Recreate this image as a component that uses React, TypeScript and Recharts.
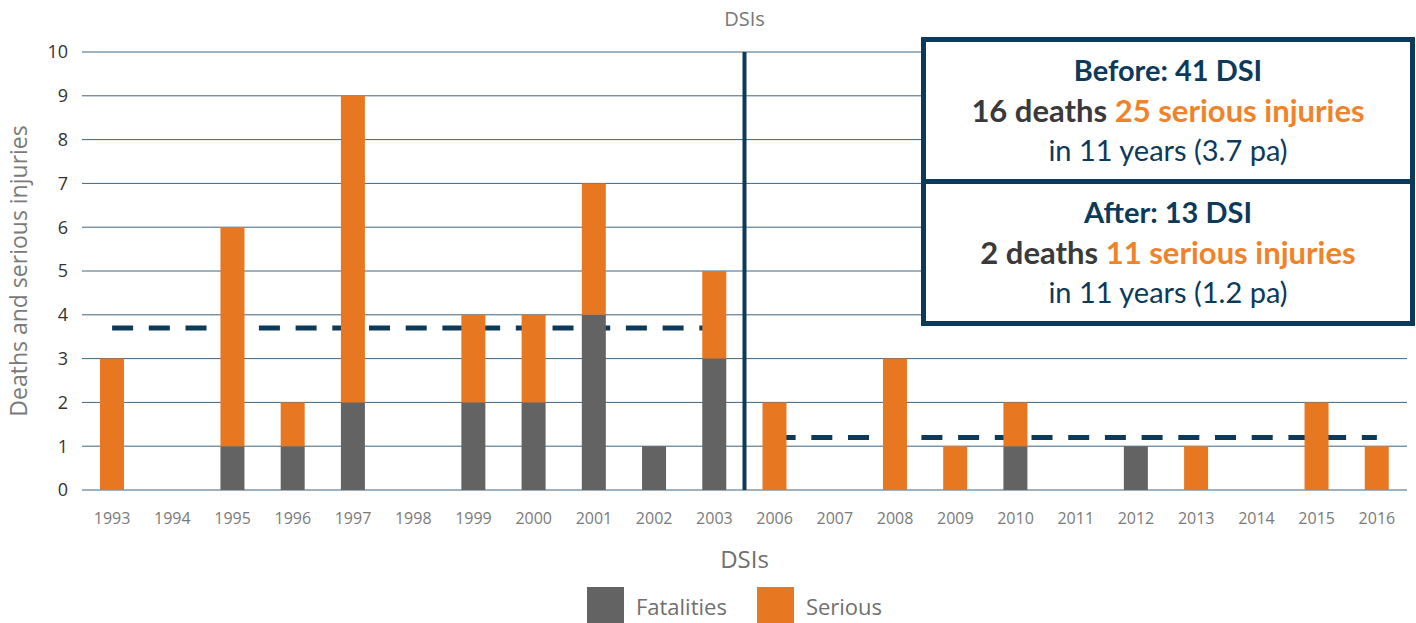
import React from "react";
import {
  Bar,
  BarChart,
  CartesianGrid,
  Legend,
  ReferenceLine,
  XAxis,
  YAxis,
} from "recharts";

if (typeof document !== "undefined") document.body.style.margin = "0";

// data
const years = [
  "1993", "1994", "1995", "1996", "1997", "1998", "1999", "2000", "2001", "2002", "2003",
  "2006", "2007", "2008", "2009", "2010", "2011", "2012", "2013", "2014", "2015", "2016",
];
const fatalities = [0, 0, 1, 1, 2, 0, 2, 2, 4, 1, 3, 0, 0, 0, 0, 1, 0, 1, 0, 0, 0, 0];
const serious = [3, 0, 5, 1, 7, 0, 2, 2, 3, 0, 2, 2, 0, 3, 1, 1, 0, 0, 1, 0, 2, 1];
const yTicks = [0, 1, 2, 3, 4, 5, 6, 7, 8, 9, 10];
const beforeAvg = 3.7;
const afterAvg = 1.2;
const before = { first: "1993", last: "2003" };
const after = { first: "2006", last: "2016" };

const data = years.map((year, i) => ({
  year,
  fatalities: fatalities[i],
  serious: serious[i],
}));

const NAVY = "#0c3a5b";
const GREY = "#636363";
const ORANGE = "#e87722";
const FONT = "'Open Sans', sans-serif";

const YLabel = ({ viewBox }: any) => {
  const cx = 18;
  const cy = viewBox.y + viewBox.height / 2;
  return (
    <text
      x={cx}
      y={cy}
      transform={`rotate(-90 ${cx} ${cy})`}
      textAnchor="middle"
      dominantBaseline="central"
      fill="#7a7a7a"
      fontSize={23}
      fontFamily={FONT}
    >
      Deaths and serious injuries
    </text>
  );
};

const LegendContent = ({ payload }: any) => (
  <div
    style={{
      display: "flex",
      justifyContent: "center",
      gap: 30,
      fontFamily: FONT,
      paddingTop: 17,
      paddingLeft: 62,
    }}
  >
    {(payload || []).map((p: any) => (
      <div key={p.value} style={{ display: "flex", alignItems: "center", gap: 12 }}>
        <span style={{ width: 37, height: 37, background: p.color, display: "inline-block" }} />
        <span style={{ fontSize: 22, color: "#707070" }}>{p.value}</span>
      </div>
    ))}
  </div>
);

const boxText: React.CSSProperties = {
  textAlign: "center",
  fontFamily: "Lato, sans-serif",
  lineHeight: "40px",
  color: NAVY,
};

export default function App() {
  return (
    <div style={{ position: "relative", width: 1416, height: 623, background: "#fff" }}>
      <BarChart
        width={1416}
        height={623}
        data={data}
        margin={{ top: 52, right: 9, bottom: 0, left: 0 }}
        barSize={24}
      >
        <CartesianGrid vertical={false} stroke="#3d6582" strokeWidth={1} />
        <XAxis
          dataKey="year"
          tickLine={false}
          axisLine={false}
          tickMargin={17}
          height={80}
          interval={0}
          tick={{ fontSize: 16, fill: "#7a7a7a", fontFamily: FONT }}
          label={{
            value: "DSIs",
            position: "insideBottom",
            offset: 2,
            style: { fontSize: 24, fill: "#707070", fontFamily: FONT },
          }}
        />
        <YAxis
          width={82}
          domain={[0, 10]}
          ticks={yTicks}
          tickLine={false}
          axisLine={false}
          tickSize={0}
          tickMargin={14}
          tick={{ fontSize: 18, fill: "#333", fontFamily: FONT }}
          label={<YLabel />}
        />
        <ReferenceLine
          segment={[
            { x: before.first, y: beforeAvg },
            { x: before.last, y: beforeAvg },
          ]}
          stroke={NAVY}
          strokeWidth={5}
          strokeDasharray="21 15.7"
          zIndex={100}
        />
        <ReferenceLine
          segment={[
            { x: after.first, y: afterAvg },
            { x: after.last, y: afterAvg },
          ]}
          stroke={NAVY}
          strokeWidth={5}
          strokeDasharray="21 15.7"
          zIndex={100}
        />
        <Bar dataKey="fatalities" name="Fatalities" stackId="a" fill={GREY} isAnimationActive={false} />
        <Bar dataKey="serious" name="Serious" stackId="a" fill={ORANGE} isAnimationActive={false} />
        <ReferenceLine
          x={after.first}
          position="start"
          stroke={NAVY}
          strokeWidth={4}
          label={{
            value: "DSIs",
            position: "top",
            offset: 26,
            style: { fontSize: 20, fill: "#777", fontFamily: FONT },
          }}
        />
        <Legend verticalAlign="bottom" height={53} content={<LegendContent />} />
      </BarChart>

      <div
        style={{
          position: "absolute",
          left: 921,
          top: 37,
          width: 494,
          height: 289,
          boxSizing: "border-box",
          border: `5px solid ${NAVY}`,
          background: "#fff",
          display: "flex",
          flexDirection: "column",
        }}
      >
        <div style={{ ...boxText, flex: 1, paddingTop: 8, borderBottom: `5px solid ${NAVY}` }}>
          <div style={{ fontWeight: 700, fontSize: 29 }}>Before: 41 DSI</div>
          <div style={{ fontWeight: 700, fontSize: 31 }}>
            <span style={{ color: "#3a3a3a" }}>16 deaths </span>
            <span style={{ color: "#f0832a" }}>25 serious injuries</span>
          </div>
          <div style={{ fontSize: 29 }}>in 11 years (3.7 pa)</div>
        </div>
        <div style={{ ...boxText, flex: 1, paddingTop: 8 }}>
          <div style={{ fontWeight: 700, fontSize: 29 }}>After: 13 DSI</div>
          <div style={{ fontWeight: 700, fontSize: 31 }}>
            <span style={{ color: "#3a3a3a" }}>2 deaths </span>
            <span style={{ color: "#f0832a" }}>11 serious injuries</span>
          </div>
          <div style={{ fontSize: 29 }}>in 11 years (1.2 pa)</div>
        </div>
      </div>
    </div>
  );
}
